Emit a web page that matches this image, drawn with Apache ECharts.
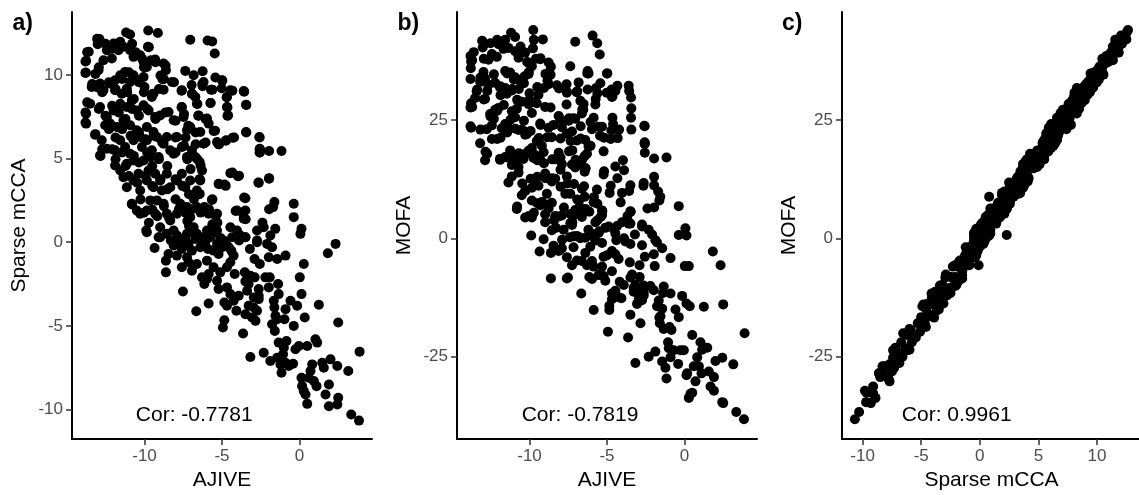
<!DOCTYPE html>
<html><head><meta charset="utf-8">
<script src="https://cdn.jsdelivr.net/npm/echarts@6/dist/echarts.min.js"></script>
<style>html,body{margin:0;padding:0;background:#fff}#c{width:1139px;height:495px}</style>
</head><body><div id="c"></div>
<script>
// sample scores (AJIVE, Sparse mCCA, MOFA), one entry per sample
const ajive = [
-9.76,-9.14,-11.19,-10.93,-7.05,-5.93,-5.63,-12.91,-11.57,-12.0,-13.02,-13.6,-13.77,-12.43,-12.65,-12.11,-11.68,-11.36,-10.93,-10.71,-10.28,-9.78,-10.06,-9.59,-9.31,-9.85,-5.47,-8.77,
-13.79,-12.97,-12.87,-13.41,-13.19,-12.65,-12.22,-11.9,-11.57,-11.25,-10.93,-10.71,-10.32,-10.0,-10.06,-11.9,-11.47,-11.14,-8.62,-8.84,-8.77,-8.23,-7.37,-6.83,-6.25,-6.19,-6.25,-5.43,-5.0,-4.46,-3.6,-7.59,-6.94,-6.72,-5.71,-4.68,-9.42,-9.53,-13.51,
-13.77,-13.77,-12.87,-12.43,-12.0,-11.57,-11.14,-10.82,-10.5,-10.06,-9.74,-9.31,-8.99,-8.45,-8.12,-7.59,-7.48,-6.62,-6.51,-5.75,-4.68,-4.61,-3.45,-5.97,-5.86,-12.22,-11.79,-11.36,-10.93,-10.5,-9.85,-9.42,-7.05,-6.4,-5.54,-3.45,-7.26,-13.19,-12.54,
-12.76,-12.87,-12.43,-11.9,-11.9,-11.57,-11.25,-10.93,-10.71,-10.28,-10.17,-9.85,-9.53,-9.2,-9.09,-8.77,-8.56,-8.34,-7.91,-8.12,-7.59,-7.26,-6.94,-6.72,-6.44,-6.29,-6.19,-5.22,-4.72,-4.31,-2.59,-2.56,-2.56,-1.96,-1.16,-5.32,-11.14,-10.71,-10.06,-9.63,
-11.57,-11.36,-11.14,-10.82,-10.71,-10.39,-10.28,-9.85,-9.74,-9.42,-9.31,-8.88,-8.99,-8.56,-8.34,-7.91,-7.59,-7.37,-7.05,-6.62,-6.4,-6.44,-5.22,-4.83,-4.46,-3.97,-2.63,-1.96,-3.49,-1.62,-1.7,-0.37,-5.65,
-10.5,-10.28,-9.85,-9.89,-9.31,-9.63,-9.2,-8.77,-8.56,-8.34,-8.12,-7.91,-7.69,-7.26,-7.05,-6.83,-6.62,-6.14,-5.86,-5.32,-5.32,-5.75,-5.11,-4.46,-4.03,-4.03,-3.49,-3.6,-3.49,-2.74,-2.74,-2.31,-0.37,0.13,-7.26,-6.62,-6.4,-5.97,-8.99,-8.56,-7.37,-9.09,-1.56,
-8.99,-8.12,-7.8,-7.59,-7.16,-6.94,-6.72,-6.08,-5.75,-5.32,-4.89,-4.68,-4.35,-3.81,-7.91,-7.16,-5.97,-5.54,-6.29,-5.97,-5.32,-4.68,-4.46,-3.17,-2.95,-3.28,-3.49,-2.2,-2.95,
-9.85,-9.35,-8.62,-8.62,-8.45,-7.52,-7.59,-7.26,-6.94,-6.62,
-6.66,-6.4,-6.14,-5.86,-5.86,-5.54,-5.22,-5.11,-5.22,-4.94,
-4.85,-4.85,-4.68,-4.68,-4.46,-4.57,-4.25,-4.18,-4.07,-4.25,
-3.92,-3.64,-3.53,-3.49,-3.49,-3.38,-3.28,-3.17,-3.06,-2.84,
-2.74,-2.74,-2.56,-2.63,-2.63,-2.63,-2.89,-2.31,-2.09,-1.98,
-1.92,-1.98,-1.88,-1.88,-1.77,-1.77,-1.66,-1.62,-1.59,-1.55,
-1.44,-1.44,-1.44,-1.38,-1.34,-1.34,-1.23,-1.16,-1.06,-1.01,
-0.9,-0.9,-0.84,-0.97,-0.9,-0.69,-0.41,-0.58,-0.37,-0.26,
-0.15,-0.04,0.02,0.13,0.13,0.17,0.28,0.28,0.34,0.39,
0.5,0.5,0.6,0.71,0.82,0.93,1.03,1.14,1.1,1.25,
1.47,1.57,1.68,1.83,1.9,1.9,2.0,2.33,2.44,2.44,
2.5,2.5,3.15,3.34,3.84,3.88,0.06,
-8.3,-7.9,-7.4,-6.8,-6.2,-5.9,-5.5,-5.0,-4.4,-3.9,-3.2,-2.9,
-13.06,-13.7,-13.81,-13.81,-12.52,-12.09,-11.66,-10.8,-10.58,-10.15,
-9.72,-10.04,-9.29,-8.64,-8.97,-12.95,-13.17,-13.38,-13.06,-12.73,
-12.3,-11.87,-11.44,-11.01,-11.12,-10.69,-10.36,-10.04,-9.5,-9.07,
-8.75,-13.7,-13.81,-13.81,-13.17,-12.95,-12.52,-12.09,-11.66,-11.23,
-10.8,-10.36,-9.83,-9.29,-8.64,-12.3,-11.87,-11.44,-10.9,-10.36,
-9.93,-9.39,-8.86,-12.73,-12.84,-12.09,-11.87,-11.44,-11.23,-10.69,
-10.36,-9.83,-9.5,-9.07,-8.53,-11.01,-10.47,-9.93,-9.5,-8.97,
-8.53,-10.8,-10.26,-10.04,-9.5,-9.18,-8.75,-8.42,-9.72,
-4.98,-8.1,-7.61,-6.96,-6.92,-6.27,-5.62,-5.02,-4.33,-3.57,
-4.7,-3.43,-5.73,-6.59,-7.61,-4.65,-4.65,-7.45,-6.53,-8.0,
-7.18,-6.06,-6.7,-5.45,-3.43,-2.57,-8.0,-7.35,-5.19,-4.76,
-4.22,-6.06,-6.7,-7.45,-2.57,-2.57,-1.96,-8.0,-7.24,-6.59,
-7.03,-6.38,-6.44,-4.33,-3.9,-5.19,-4.76,-2.65,-8.0,-7.56,
-7.13,-6.81,-6.48,-5.62,-3.57,-8.0,-7.78,-7.35,-6.92,-6.38,
-5.84,-5.41,-4.12,-3.68,-3.47,-2.39,-1.96,-7.24,-7.13,-5.62,
-5.3
];
const mcca = [
12.65,12.51,12.53,12.41,12.1,12.06,12.0,12.14,11.98,11.88,11.84,11.38,10.84,11.48,10.88,10.98,11.48,11.68,11.48,11.08,11.18,11.68,10.78,10.88,10.92,10.48,11.28,10.68,
10.14,10.28,9.48,9.28,9.38,9.08,9.48,9.68,9.98,10.18,9.58,9.98,9.68,9.28,9.88,9.08,8.88,9.18,10.28,9.74,9.12,9.58,10.24,9.98,10.22,9.58,9.32,9.84,9.68,9.08,9.04,9.08,8.88,8.68,9.12,8.68,8.88,8.68,8.28,
7.68,7.09,8.08,7.49,7.88,8.28,8.08,8.48,7.88,8.18,7.88,7.49,7.58,7.78,7.29,8.08,7.49,8.28,7.58,8.32,8.08,7.58,8.22,7.39,7.09,7.09,6.89,7.29,6.99,6.69,6.89,6.59,6.89,6.59,6.65,6.59,6.69,6.43,6.99,
6.09,5.19,5.59,5.49,4.59,6.09,5.69,5.29,6.09,6.29,5.69,6.09,5.49,6.29,5.09,5.89,6.29,5.49,6.29,5.29,5.69,5.09,5.49,5.09,4.79,4.29,5.89,5.85,6.09,6.25,6.29,5.59,5.37,5.45,5.45,5.99,4.69,4.89,4.89,5.09,
4.29,3.89,3.29,2.3,3.69,4.09,3.09,3.69,4.29,3.29,4.09,3.09,3.69,4.09,3.29,3.69,4.09,3.29,3.69,3.09,3.69,2.89,3.49,3.45,4.13,3.95,3.55,3.79,2.63,2.4,2.1,2.3,2.53,
1.9,1.7,1.9,0.7,1.7,2.5,2.5,2.3,1.7,1.3,0.7,1.7,2.3,2.1,1.5,0.9,2.1,2.1,1.7,1.7,0.7,0.3,0.26,0.9,0.7,1.9,1.9,1.4,0.3,0.7,0.1,0.9,1.5,0.8,0.5,0.5,0.2,0.7,0.9,0.5,0.2,0.3,0.8,
0.3,-0.2,0.1,-0.4,-0.1,-0.5,0.2,0.0,0.4,-0.1,0.1,-0.2,0.3,0.4,-0.8,-1.2,-1.1,-1.5,-2.1,-2.2,-2.3,-1.5,-1.2,-2.0,-3.3,-3.8,-4.3,-2.1,-3.9,
0.6,-0.34,-1.1,-1.8,-0.7,-2.94,-1.5,-0.9,-1.7,-1.3,
-4.12,-0.3,-2.5,-3.66,-1.9,-0.5,-0.7,-1.8,-2.8,-5.1,
-4.66,-3.6,-3.8,-2.7,-3.1,-0.3,-0.8,-1.9,-4.1,-3.5,
-3.2,-5.46,-1.8,0.3,-2.34,-2.9,-2.5,-6.86,-4.5,-4.7,
-4.1,0.0,-1.3,-2.8,-3.2,-3.4,-2.1,-6.6,-0.1,-0.9,
-2.1,-2.7,-7.1,0.4,-0.3,-4.9,-3.5,-3.9,-5.3,-4.4,
-4.6,-6.9,-1.0,-2.5,-3.1,-6.0,-7.3,-7.8,-6.7,-6.3,
-4.0,-0.8,-5.9,-4.6,-7.2,-7.4,-7.26,-3.5,-5.0,-6.4,
-3.8,-6.2,-2.1,-3.1,-8.1,-8.6,-1.3,-8.9,-4.5,-9.1,
-6.2,-9.66,-8.1,-7.7,-7.3,-8.3,-5.8,-6.0,-8.6,-3.74,
-7.2,-7.5,-9.1,-0.66,-8.5,-9.8,-7.0,-0.1,-7.4,-9.7,
-4.8,-9.3,-7.7,-10.3,-10.66,-6.54,0.5,
0.1,0.4,-0.2,0.6,0.3,-0.4,0.6,-0.3,-0.5,0.1,-0.4,-1.0,
12.16,11.36,10.8,10.12,11.86,11.56,11.76,11.86,11.36,10.96,
11.66,10.46,10.76,10.56,9.96,10.46,10.06,9.46,9.26,8.96,
9.56,9.16,9.76,10.16,8.96,8.56,9.56,8.96,8.86,9.16,
9.76,8.36,7.76,7.16,6.46,7.96,7.56,8.16,7.76,7.36,
7.96,7.56,7.96,7.36,7.76,6.76,6.26,6.76,6.36,6.56,
6.16,6.36,5.96,5.56,5.16,5.56,4.96,5.36,4.56,5.16,
4.76,5.36,4.56,4.96,4.56,3.96,3.56,3.96,3.36,3.76,
3.16,2.26,2.56,1.76,1.96,1.56,2.16,1.46,1.16,
9.66,9.56,9.06,9.4,8.86,9.46,9.12,9.2,9.06,9.0,
8.66,8.2,8.32,8.26,8.06,8.06,7.56,7.66,7.56,7.26,
6.96,7.36,6.56,6.67,6.56,6.26,6.26,6.26,5.86,6.06,
6.26,5.96,5.86,5.76,5.56,5.37,3.83,5.37,4.96,4.96,
4.37,4.57,3.77,4.17,3.97,3.47,3.37,3.57,3.77,3.37,
2.87,2.57,2.87,2.57,2.67,2.57,1.97,1.77,1.97,1.77,
1.97,1.57,1.87,1.77,1.37,1.17,1.97,1.27,0.97,1.07,
1.17
];
const mofa = [
44.1,42.1,43.5,42.6,41.6,42.9,41.3,41.2,42.0,41.1,40.4,39.4,37.4,39.0,37.8,38.4,40.1,40.3,39.6,38.2,39.3,40.2,37.1,38.0,37.9,36.4,38.9,37.2,
36.0,35.2,33.8,31.1,33.2,32.5,32.9,31.9,35.4,35.1,34.1,33.5,34.3,30.7,34.8,32.2,30.6,31.3,36.3,33.4,32.6,32.4,36.4,33.0,35.4,34.9,31.5,32.8,34.9,31.2,32.3,31.0,31.0,29.1,31.8,31.1,30.4,28.6,29.7,
28.6,23.4,29.5,23.9,27.6,31.8,26.9,27.4,28.9,28.4,28.9,24.3,27.8,24.0,25.9,30.8,24.9,26.4,28.4,28.3,29.9,24.2,29.8,23.1,25.5,27.2,23.3,23.4,25.6,23.0,26.5,21.0,25.3,20.8,23.6,25.5,22.6,20.1,26.3,
23.1,16.5,21.0,16.8,16.6,24.2,18.6,16.5,22.9,21.9,22.1,19.1,20.6,19.6,18.2,23.4,21.4,16.7,23.5,18.1,22.2,15.6,20.7,15.7,17.4,17.9,19.4,18.4,22.8,21.2,23.8,18.1,20.0,16.9,17.1,23.6,15.5,15.1,18.5,17.6,
17.2,11.8,13.1,6.2,13.9,16.8,10.0,10.7,17.0,11.1,16.6,9.4,13.7,12.0,12.6,15.7,13.1,9.4,15.0,10.5,14.8,8.8,13.5,9.6,15.2,16.5,11.7,11.2,11.2,8.0,9.9,0.7,10.3,
9.1,4.4,8.0,0.6,7.0,11.8,7.7,6.3,7.5,4.7,4.6,4.8,9.4,5.2,6.0,6.3,6.3,5.6,7.6,5.9,4.9,-0.5,2.2,1.0,3.4,9.6,5.7,3.1,3.1,2.5,2.9,1.8,6.8,0.6,2.8,4.5,0.1,0.5,5.1,1.7,3.2,-0.2,8.8,
3.4,-2.7,1.8,-4.0,0.4,0.5,0.0,-1.8,3.4,-1.0,2.5,-2.7,2.6,-0.7,-2.1,-1.9,-4.8,-7.8,-5.7,-8.6,-6.0,-7.0,-3.4,-9.9,-11.0,-11.3,-16.2,-10.1,-12.7,
4.4,-2.8,-3.1,-8.5,-1.6,-8.3,-8.5,-5.7,-4.7,-4.8,
-11.7,-3.1,-8.2,-15.2,-6.0,1.1,-3.9,-9.0,-8.0,-19.8,
-14.3,-15.2,-12.9,-11.7,-11.1,2.0,-4.4,-9.2,-12.7,-12.5,
-9.9,-21.0,-5.1,-1.2,-8.3,-7.7,-10.5,-26.4,-13.9,-18.0,
-13.1,-1.5,-3.9,-12.1,-11.4,-10.0,-8.2,-25.1,0.8,-3.4,
-5.9,-11.0,-24.0,-0.4,-0.9,-14.4,-13.2,-16.8,-18.0,-16.5,
-14.9,-26.1,-2.1,-11.6,-10.2,-19.2,-27.4,-29.7,-22.0,-23.3,
-11.7,-4.2,-19.4,-18.8,-25.2,-23.7,-26.6,-15.1,-16.7,-23.7,
-12.2,-23.7,-5.9,-13.8,-29.0,-28.6,-5.9,-33.8,-14.4,-32.9,
-20.5,-32.7,-27.1,-30.3,-25.2,-27.1,-22.0,-23.6,-28.6,-14.5,
-23.2,-28.2,-31.4,-2.8,-29.4,-32.3,-26.0,-5.7,-25.3,-34.7,
-14.0,-34.9,-26.7,-36.8,-38.3,-20.1,2.1,
2.2,-0.3,0.2,0.2,1.8,0.9,1.5,-3.6,-0.4,0.0,0.8,-5.7,
41.8,37.7,38.6,33.7,41.3,42.0,40.3,39.3,40.6,37.3,
42.0,35.2,38.1,34.6,34.8,38.0,34.0,31.5,33.2,31.2,
34.7,30.3,34.9,33.6,31.6,31.6,32.8,29.2,32.0,31.8,
35.1,27.8,27.7,23.7,23.0,29.4,25.8,27.0,28.2,25.1,
29.3,24.9,28.8,24.0,27.7,25.3,21.3,22.4,23.2,22.7,
22.7,21.2,21.4,17.9,18.3,21.0,16.8,17.1,17.3,18.0,
17.8,17.7,16.5,15.9,16.7,15.7,11.6,12.6,13.0,12.7,
12.7,6.7,10.1,4.7,7.4,7.5,7.1,3.8,5.4,
34.9,31.7,32.6,30.9,31.1,34.9,30.7,30.8,32.3,31.2,
31.5,27.5,29.5,27.3,28.3,30.0,25.5,25.4,27.2,25.2,
25.4,24.6,23.7,21.7,23.0,23.7,21.1,20.6,21.3,21.0,
23.0,19.6,21.1,18.4,20.0,20.3,13.0,17.1,18.6,16.7,
16.6,14.8,14.1,12.7,14.4,14.2,11.1,11.1,14.5,11.6,
11.5,7.9,11.0,7.3,10.0,10.9,6.5,5.1,8.2,6.2,
8.7,4.5,7.6,4.7,5.6,6.3,6.5,3.4,4.9,3.8,
5.7
];

// tick values and labels
const xTicksAB = [-10, -5, 0];
const yTicksA = [-10, -5, 0, 5, 10];
const yTicksBC = [-25, 0, 25];
const xTicksC = [-10, -5, 0, 5, 10];
const xTitles = ['AJIVE', 'AJIVE', 'Sparse mCCA'];
const yTitles = ['Sparse mCCA', 'MOFA', 'MOFA'];
const panelLabels = ['a)', 'b)', 'c)'];
const corLabels = ['Cor: -0.7781', 'Cor: -0.7819', 'Cor: 0.9961'];

if (ajive.length !== mcca.length || mcca.length !== mofa.length) {
  console.error('length mismatch', ajive.length, mcca.length, mofa.length);
}
const n = Math.min(ajive.length, mcca.length, mofa.length);
const pairs = (a, b) => { const out = []; for (let i = 0; i < n; i++) out.push([a[i], b[i]]); return out; };

const FONT = '"Liberation Sans", Arial, sans-serif';
function axis(gi, min, max, ticks, name, isX) {
  return {
    type: 'value', gridIndex: gi, min: min, max: max, name: name,
    nameLocation: 'middle', nameGap: isX ? 31 : 42,
    nameTextStyle: { fontFamily: FONT, fontSize: 21, color: '#000' },
    axisLine: { show: true, onZero: false, lineStyle: { color: '#000', width: 2 } },
    axisTick: { show: true, customValues: ticks, length: 6, lineStyle: { color: '#333', width: 1.5 } },
    axisLabel: { customValues: ticks, fontSize: 17, color: '#4d4d4d', fontFamily: FONT, margin: 9 },
    splitLine: { show: false }
  };
}
const chart = echarts.init(document.getElementById('c'), null, { renderer: 'canvas' });
const grids = [
  { left: 72, top: 12, width: 300, height: 427 },
  { left: 457, top: 12, width: 300, height: 427 },
  { left: 842, top: 12, width: 299, height: 427 }
].map(g => Object.assign({ containLabel: false, outerBoundsMode: 'none' }, g));
const labelX = [12.5, 397.5, 782];
const corX = [194.2, 580, 956.7];
const option = {
  animation: false,
  backgroundColor: '#fff',
  grid: grids,
  xAxis: [
    axis(0, -14.68, 4.68, xTicksAB, xTitles[0], true),
    axis(1, -14.68, 4.68, xTicksAB, xTitles[1], true),
    axis(2, -11.76, 13.76, xTicksC, xTitles[2], true)
  ],
  yAxis: [
    axis(0, -11.76, 13.76, yTicksA, yTitles[0], false),
    axis(1, -42.5, 47.9, yTicksBC, yTitles[1], false),
    axis(2, -42.5, 47.9, yTicksBC, yTitles[2], false)
  ],
  series: [
    { type: 'scatter', xAxisIndex: 0, yAxisIndex: 0, data: pairs(ajive, mcca) },
    { type: 'scatter', xAxisIndex: 1, yAxisIndex: 1, data: pairs(ajive, mofa) },
    { type: 'scatter', xAxisIndex: 2, yAxisIndex: 2, data: pairs(mcca, mofa) }
  ].map(s => Object.assign({ symbol: 'circle', symbolSize: 10, itemStyle: { color: '#000', opacity: 1 }, silent: true }, s)),
  graphic: [].concat(
    panelLabels.map((t, i) => ({ type: 'text', x: labelX[i], y: 24, style: { text: t, fill: '#000', font: 'bold 23px ' + FONT, align: 'left', verticalAlign: 'middle' } })),
    corLabels.map((t, i) => ({ type: 'text', x: corX[i], y: 415.5, style: { text: t, fill: '#000', font: '21px ' + FONT, align: 'center', verticalAlign: 'middle' } }))
  )
};
chart.setOption(option);
</script>
</body></html>
